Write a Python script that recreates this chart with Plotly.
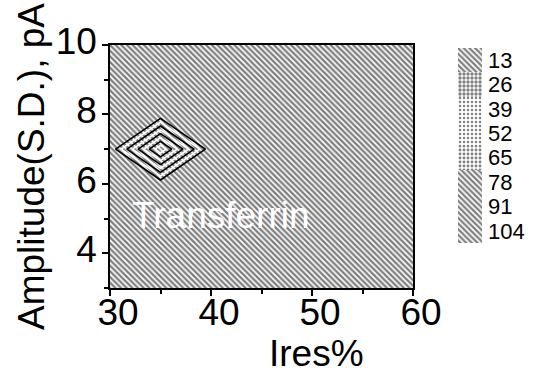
import plotly.graph_objects as go

# ---- data ----
ires = [30, 35, 40, 45, 50, 55, 60]                 # x grid (Ires%)
amp = [3, 4, 5, 6, 7, 8, 9, 10]                      # y grid (pA)
counts = [                                            # z grid (rows = amp)
    [0, 0, 0, 0, 0, 0, 0],
    [0, 0, 0, 0, 0, 0, 0],
    [0, 0, 0, 0, 0, 0, 0],
    [0, 0, 0, 0, 0, 0, 0],
    [0, 117, 0, 0, 0, 0, 0],
    [0, 0, 0, 0, 0, 0, 0],
    [0, 0, 0, 0, 0, 0, 0],
    [0, 0, 0, 0, 0, 0, 0],
]
levels = ["13", "26", "39", "52", "65", "78", "91", "104"]
level_patterns = ["\\", ".", ".", ".", ".", "\\", "\\", "\\"]
level_solidity = [0.55, 0.55, 0.3, 0.3, 0.4, 0.55, 0.55, 0.55]
X_RANGE = [30, 60]
Y_RANGE = [3, 10]
label_text = "Transferrin"

FONT = "Arial, Liberation Sans, sans-serif"

fig = go.Figure()

# hatched background of the map (lowest level fill)
fig.add_trace(go.Scatter(
    x=[X_RANGE[0], X_RANGE[1], X_RANGE[1], X_RANGE[0], X_RANGE[0]],
    y=[Y_RANGE[0], Y_RANGE[0], Y_RANGE[1], Y_RANGE[1], Y_RANGE[0]],
    mode="none", fill="toself", fillcolor="white",
    fillpattern=dict(shape="\\", size=4, solidity=0.58, fgcolor="black", bgcolor="white"),
    hoverinfo="skip", showlegend=False, xaxis="x", yaxis="y"))

# contour lines (alternating black / white), on an overlay so they sit above the hatch
fig.add_trace(go.Contour(
    x=ires, y=amp, z=counts, showscale=False,
    contours=dict(coloring="none", start=13, end=104, size=26),
    line=dict(color="black", width=1.6, smoothing=0), xaxis="x3", yaxis="y3"))
fig.add_trace(go.Contour(
    x=ires, y=amp, z=counts, showscale=False,
    contours=dict(coloring="none", start=26, end=104, size=26),
    line=dict(color="white", width=1.6, smoothing=0), xaxis="x3", yaxis="y3"))

# level key (pattern legend)
fig.add_trace(go.Bar(
    y=levels, x=[1] * len(levels), orientation="h",
    marker=dict(color="white", line=dict(width=0),
                pattern=dict(shape=level_patterns, size=4, solidity=level_solidity,
                             fgcolor="black", bgcolor="white")),
    xaxis="x2", yaxis="y2", showlegend=False, hoverinfo="skip"))

axis_font = dict(family=FONT, size=37, color="black")

fig.update_layout(
    width=548, height=375,
    margin=dict(l=110, r=66, t=45, b=87),
    paper_bgcolor="white", plot_bgcolor="white",
    bargap=0,
    showlegend=False,
    xaxis=dict(domain=[0, 0.8145], range=X_RANGE, showgrid=False, zeroline=False,
               showline=True, linecolor="black", linewidth=1.5, mirror=True,
               ticks="outside", ticklen=6, tickwidth=1.5, tickcolor="black",
               tick0=30, dtick=10, tickfont=axis_font, ticklabelshift=8,
               ticklabelstandoff=-15,
               minor=dict(ticks="outside", ticklen=4, dtick=5, tickcolor="black")),
    yaxis=dict(range=Y_RANGE, showgrid=False, zeroline=False,
               showline=True, linecolor="black", linewidth=1.5, mirror=True,
               ticks="outside", ticklen=6, tickwidth=1.5, tickcolor="black",
               tick0=0, dtick=2, tickfont=axis_font, ticklabelshift=-4,
               ticklabelstandoff=-2,
               title=dict(text="Amplitude(S.D.), pA", font=axis_font, standoff=0),
               minor=dict(ticks="outside", ticklen=4, dtick=1, tickcolor="black")),
    xaxis3=dict(overlaying="x", range=X_RANGE, visible=False, anchor="y3"),
    yaxis3=dict(overlaying="y", range=Y_RANGE, visible=False, anchor="x3"),
    xaxis2=dict(domain=[0.9355, 1], range=[0, 1], visible=False, anchor="y2"),
    yaxis2=dict(domain=[0.1852, 0.9877], anchor="x2", side="right", type="category",
                autorange="reversed", showgrid=False, zeroline=False, showline=False,
                tickmode="array", tickvals=levels, ticktext=levels,
                ticks="", ticklabelstandoff=5,
                tickfont=dict(family=FONT, size=22, color="black")),
    annotations=[
        dict(text=label_text, x=41.0, y=5.1, xref="x", yref="y", showarrow=False,
             font=dict(family=FONT, size=37, color="white")),
        dict(text="Ires%", x=0.554, y=-0.2716, xref="paper", yref="paper",
             xanchor="center", yanchor="middle", showarrow=False,
             font=axis_font),
    ],
)

fig.write_html("out.html")
